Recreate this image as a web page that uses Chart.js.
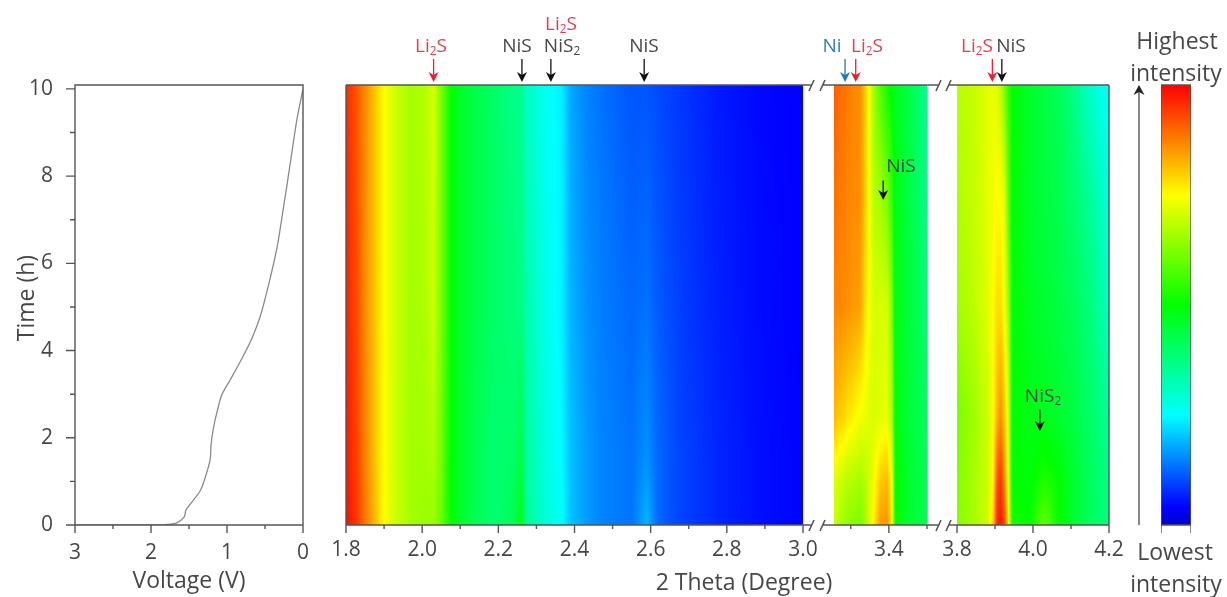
<!DOCTYPE html>
<html>
<head>
<meta charset="utf-8">
<script src="https://cdn.jsdelivr.net/npm/chart.js@4/dist/chart.umd.js"></script>
<style>
    html, body { margin: 0; padding: 0; background: #fff; }
    #page { position: relative; width: 1227px; height: 597px; overflow: hidden; font-family: "Open Sans", sans-serif; color: #474747; filter: blur(0.4px); }
    canvas { position: absolute; top: 0; }
    svg { position: absolute; left: 0; top: 0; }
    .lab { position: absolute; transform: translate(-50%, -50%); white-space: nowrap; font-size: 19px; line-height: 1; }
    .big { font-size: 23px; }
    .red { color: #d9434f; }
    .blue { color: #2f7fbd; }
    .lab sub { font-size: 62%; line-height: 0; vertical-align: -0.3em; }
</style>
</head>
<body>
<div id="page">
    <canvas id="voltChart" width="330" height="597" style="left:0"></canvas>
    <canvas id="heatA" width="517" height="597" style="left:316px"></canvas>
    <canvas id="heatB" width="153" height="597" style="left:804px"></canvas>
    <canvas id="heatC" width="212" height="597" style="left:927px"></canvas>
    <canvas id="colorBar" width="30" height="597" style="left:1161px"></canvas>

    <svg width="1227" height="597">
        <g stroke="#555" stroke-width="1.6" fill="none">
            <path d="M346 85H811M822 85H938M949 85H1109" />
            <path d="M346 525H811M822 525H938M949 525H1109" />
            <path d="M809 91L814 80M820 91L825 80M936 91L941 80M946 91L951 80" />
            <path d="M809 531L814 520M820 531L825 520M936 531L941 520M946 531L951 520" />
        </g>
        <path d="M1139 525V92" stroke="#555" stroke-width="1.4" fill="none" />
        <path d="M1139 85L1133.5 95L1139 92L1144.5 95Z" fill="#222" />
    </svg>

    <div class="lab big" style="left:25px;top:298px;transform:translate(-50%, -50%) rotate(-90deg)">Time (h)</div>
    <div class="lab red" style="left:431px;top:45px">Li<sub>2</sub>S</div>
    <div class="lab red" style="left:561px;top:23px">Li<sub>2</sub>S</div>
    <div class="lab" style="left:517px;top:45px">NiS</div>
    <div class="lab" style="left:562px;top:45px">NiS<sub>2</sub></div>
    <div class="lab" style="left:644px;top:45px">NiS</div>
    <div class="lab blue" style="left:832px;top:45px">Ni</div>
    <div class="lab red" style="left:867px;top:45px">Li<sub>2</sub>S</div>
    <div class="lab red" style="left:977px;top:45px">Li<sub>2</sub>S</div>
    <div class="lab" style="left:1011px;top:45px">NiS</div>
    <div class="lab" style="left:901px;top:165px">NiS</div>
    <div class="lab" style="left:1043px;top:395px">NiS<sub>2</sub></div>
    <div class="lab big" style="left:1177px;top:40px">Highest</div>
    <div class="lab big" style="left:1176px;top:72px">intensity</div>
    <div class="lab big" style="left:1175px;top:551px">Lowest</div>
    <div class="lab big" style="left:1176px;top:583px">intensity</div>
    <div class="lab big" style="left:744px;top:581px">2 Theta (Degree)</div>
</div>

<script>
// voltage profile
const voltage = [3, 2, 1.78, 1.66, 1.56, 1.545, 1.51, 1.35, 1.265, 1.22, 1.21, 1.18, 1.13, 1.07, 0.957, 0.8, 0.67, 0.56, 0.45, 0.34, 0.255, 0.167, 0.08, 0];
const voltTime = [0, 0, 0.015, 0.05, 0.19, 0.32, 0.42, 0.79, 1.21, 1.52, 1.83, 2.21, 2.6, 2.98, 3.33, 3.83, 4.29, 4.8, 5.53, 6.38, 7.3, 8.3, 9.3, 10];
const voltTicks = [3, 2.5, 2, 1.5, 1, 0.5, 0];
const voltLabels = [3, 2, 1, 0];
const timeTicks = [0, 1, 2, 3, 4, 5, 6, 7, 8, 9, 10];
const timeLabels = [0, 2, 4, 6, 8, 10];

// time rows the intensity was read at (per panel)
const timesA = [0, 1.5, 5, 10.09];
const timesBC = [0, 1, 2.5, 5, 7.5, 10.09];

// panel A, 1.8 - 3.0 degree
const thetaA = [1.8, 1.826, 1.852, 1.879, 1.9, 1.93, 1.97, 2.01, 2.03, 2.05, 2.076, 2.1, 2.14, 2.19, 2.24, 2.26, 2.275, 2.325, 2.365, 2.39, 2.43, 2.467, 2.55, 2.59, 2.62, 2.68, 2.78, 2.89, 3.0];
const rowsA = [
    [0.99, 0.95, 0.88, 0.81, 0.75, 0.7, 0.66, 0.65, 0.65, 0.6, 0.5, 0.46, 0.42, 0.39, 0.42, 0.48, 0.35, 0.29, 0.26, 0.2, 0.17, 0.15, 0.135, 0.19, 0.125, 0.095, 0.07, 0.05, 0.042],
    [0.98, 0.94, 0.87, 0.8, 0.75, 0.7, 0.66, 0.66, 0.67, 0.61, 0.5, 0.46, 0.42, 0.39, 0.4, 0.44, 0.34, 0.28, 0.25, 0.2, 0.17, 0.15, 0.135, 0.16, 0.125, 0.095, 0.07, 0.05, 0.042],
    [0.97, 0.93, 0.86, 0.8, 0.75, 0.7, 0.66, 0.67, 0.7, 0.62, 0.5, 0.46, 0.43, 0.4, 0.38, 0.37, 0.33, 0.27, 0.24, 0.19, 0.16, 0.145, 0.125, 0.135, 0.115, 0.09, 0.065, 0.048, 0.04],
    [0.96, 0.92, 0.86, 0.8, 0.75, 0.7, 0.66, 0.68, 0.71, 0.62, 0.5, 0.46, 0.43, 0.4, 0.37, 0.36, 0.31, 0.26, 0.24, 0.18, 0.15, 0.135, 0.11, 0.11, 0.1, 0.085, 0.06, 0.045, 0.04],
];

// panel B, 3.256 - 3.5 degree
const thetaB = [3.256, 3.29, 3.325, 3.338, 3.346, 3.36, 3.377, 3.395, 3.408, 3.417, 3.456, 3.5];
const rowsB = [
    [0.7, 0.64, 0.62, 0.66, 0.7, 0.76, 0.85, 0.86, 0.76, 0.5, 0.45, 0.42],
    [0.72, 0.68, 0.66, 0.68, 0.7, 0.74, 0.8, 0.82, 0.74, 0.5, 0.45, 0.42],
    [0.82, 0.78, 0.74, 0.73, 0.72, 0.71, 0.72, 0.73, 0.66, 0.49, 0.44, 0.41],
    [0.87, 0.86, 0.84, 0.78, 0.75, 0.71, 0.71, 0.71, 0.62, 0.48, 0.44, 0.39],
    [0.89, 0.87, 0.86, 0.8, 0.75, 0.68, 0.66, 0.62, 0.55, 0.48, 0.43, 0.37],
    [0.91, 0.88, 0.86, 0.8, 0.75, 0.66, 0.58, 0.52, 0.49, 0.47, 0.43, 0.36],
];

// panel C, 3.8 - 4.2 degree
const thetaC = [3.8, 3.84, 3.88, 3.895, 3.905, 3.915, 3.925, 3.935, 3.945, 3.99, 4.03, 4.06, 4.1, 4.15, 4.2];
const rowsC = [
    [0.63, 0.66, 0.7, 0.8, 0.96, 0.98, 0.92, 0.78, 0.52, 0.5, 0.6, 0.52, 0.46, 0.41, 0.38],
    [0.63, 0.66, 0.7, 0.76, 0.92, 0.95, 0.86, 0.74, 0.5, 0.49, 0.53, 0.51, 0.46, 0.41, 0.37],
    [0.62, 0.65, 0.7, 0.75, 0.82, 0.86, 0.8, 0.72, 0.5, 0.48, 0.47, 0.46, 0.44, 0.4, 0.35],
    [0.66, 0.68, 0.72, 0.75, 0.78, 0.78, 0.74, 0.66, 0.5, 0.47, 0.45, 0.44, 0.42, 0.38, 0.31],
    [0.67, 0.69, 0.72, 0.74, 0.75, 0.75, 0.72, 0.6, 0.5, 0.46, 0.44, 0.43, 0.4, 0.35, 0.28],
    [0.68, 0.69, 0.72, 0.73, 0.72, 0.68, 0.62, 0.55, 0.5, 0.46, 0.44, 0.42, 0.38, 0.3, 0.25],
];

const ticksA = [1.8, 1.9, 2, 2.1, 2.2, 2.3, 2.4, 2.5, 2.6, 2.7, 2.8, 2.9, 3];
const labelsA = [1.8, 2, 2.2, 2.4, 2.6, 2.8, 3];
const ticksB = [3.3, 3.4, 3.5];
const labelsB = [3.4];
const ticksC = [3.8, 3.9, 4, 4.1, 4.2];
const labelsC = [3.8, 4, 4.2];

// peak arrows: 2 theta and colour
const peaksA = [2.03, 2.262, 2.338, 2.583];
const peakColorsA = ["#e8202e", "#111", "#111", "#111"];
const peaksB = [3.285, 3.313];
const peakColorsB = ["#1f78b8", "#e8202e"];
const peaksC = [3.893, 3.918];
const peakColorsC = ["#e8202e", "#111"];

// colour bar
const barLevels = [0, 1];

// rainbow used by the map: 0 dark blue ... 1 red
const colorStops = [
    [0, 0, 0, 205],
    [0.04, 0, 0, 255],
    [0.25, 0, 255, 255],
    [0.5, 0, 255, 0],
    [0.75, 255, 255, 0],
    [1, 255, 0, 0],
];

const tickFont = { family: "Open Sans", size: 21 };
const textColor = "#474747";
const lineColor = "#555";

function intensityColor(v) {
    for (let i = 1; i < colorStops.length; i++) {
        if (v <= colorStops[i][0]) {
            const a = colorStops[i - 1], b = colorStops[i];
            const f = (v - a[0]) / (b[0] - a[0]);
            return [a[1] + (b[1] - a[1]) * f, a[2] + (b[2] - a[2]) * f, a[3] + (b[3] - a[3]) * f];
        }
    }
    return [255, 0, 0];
}

// index of the interval holding v, and the fraction along it
function locate(list, v) {
    let i = 0;
    while (i < list.length - 2 && v > list[i + 1]) i++;
    const f = (v - list[i]) / (list[i + 1] - list[i]);
    return [i, Math.min(1, Math.max(0, f))];
}

// Plugin to shade the map, pixel by pixel, through the chart's scales
const heatPlugin = {
    id: "heatPlugin",
    beforeDatasetsDraw: (chart, args, opts) => {
        const { left, right, top, bottom } = chart.chartArea;
        const w = Math.round(right - left), h = Math.round(bottom - top);
        const off = document.createElement("canvas");
        off.width = w;
        off.height = h;
        const octx = off.getContext("2d");
        const img = octx.createImageData(w, h);
        for (let py = 0; py < h; py++) {
            const [r, fr] = locate(opts.times, chart.scales.y.getValueForPixel(top + py + 0.5));
            for (let px = 0; px < w; px++) {
                const [c, fc] = locate(opts.thetas, chart.scales.x.getValueForPixel(left + px + 0.5));
                const lo = opts.rows[r][c] * (1 - fc) + opts.rows[r][c + 1] * fc;
                const hi = opts.rows[r + 1][c] * (1 - fc) + opts.rows[r + 1][c + 1] * fc;
                const rgb = intensityColor(lo * (1 - fr) + hi * fr);
                const k = (py * w + px) * 4;
                img.data[k] = rgb[0];
                img.data[k + 1] = rgb[1];
                img.data[k + 2] = rgb[2];
                img.data[k + 3] = 255;
            }
        }
        octx.putImageData(img, 0, 0);
        chart.ctx.drawImage(off, left, top);
    },
};

function drawArrow(ctx, x, y0, y1, color) {
    ctx.strokeStyle = color;
    ctx.fillStyle = color;
    ctx.lineWidth = 1.3;
    ctx.beginPath();
    ctx.moveTo(x, y0);
    ctx.lineTo(x, y1 - 5);
    ctx.stroke();
    ctx.beginPath();
    ctx.moveTo(x, y1);
    ctx.lineTo(x - 5, y1 - 10);
    ctx.lineTo(x, y1 - 7);
    ctx.lineTo(x + 5, y1 - 10);
    ctx.closePath();
    ctx.fill();
}

// Plugin for the peak arrows above a panel
const peakPlugin = {
    id: "peakPlugin",
    afterDatasetsDraw: (chart, args, opts) => {
        (opts.peaks || []).forEach((theta, i) => {
            drawArrow(chart.ctx, chart.scales.x.getPixelForValue(theta), 59, 82, opts.colors[i]);
        });
        (opts.inside || []).forEach((p) => {
            const x = chart.scales.x.getPixelForValue(p[0]);
            drawArrow(chart.ctx, x, chart.scales.y.getPixelForValue(p[1]), chart.scales.y.getPixelForValue(p[2]), "#111");
        });
    },
};

// Plugin for tick marks: labelled ticks long, the others short
const tickPlugin = {
    id: "tickPlugin",
    afterDraw: (chart, args, opts) => {
        const { ctx, chartArea } = chart;
        ctx.save();
        ctx.strokeStyle = lineColor;
        ctx.lineWidth = 1.4;
        ctx.beginPath();
        chart.scales.x.ticks.forEach((t) => {
            const x = chart.scales.x.getPixelForValue(t.value);
            ctx.moveTo(x, chartArea.bottom);
            ctx.lineTo(x, chartArea.bottom + (t.label !== "" ? 8 : 4));
        });
        if (opts.yTicks) {
            chart.scales.y.ticks.forEach((t) => {
                const y = chart.scales.y.getPixelForValue(t.value);
                ctx.moveTo(chartArea.left, y);
                ctx.lineTo(chartArea.left - (t.label !== "" ? 9 : 5), y);
            });
        }
        if (opts.frame) ctx.rect(chartArea.left, chartArea.top, chartArea.right - chartArea.left, chartArea.bottom - chartArea.top);
        if (opts.leftEdge) {
            ctx.moveTo(chartArea.left, chartArea.top);
            ctx.lineTo(chartArea.left, chartArea.bottom);
        }
        if (opts.rightEdge) {
            ctx.moveTo(chartArea.right, chartArea.top);
            ctx.lineTo(chartArea.right, chartArea.bottom);
        }
        ctx.stroke();
        ctx.restore();
    },
};

new Chart(document.getElementById("voltChart").getContext("2d"), {
    type: "scatter",
    data: {
        datasets: [{
            data: voltage.map((v, i) => ({ x: v, y: voltTime[i] })),
            showLine: true,
            borderColor: "#8a8a8a",
            borderWidth: 1.3,
            pointRadius: 0,
            tension: 0.25,
        }],
    },
    options: {
        responsive: false,
        animation: false,
        layout: { padding: { top: 85, right: 27, left: 0, bottom: 0 } },
        plugins: { legend: { display: false }, tooltip: { enabled: false }, tickPlugin: { yTicks: true, frame: true } },
        scales: {
            x: {
                type: "linear",
                reverse: true,
                min: 0,
                max: 3,
                grid: { display: false },
                border: { display: false },
                afterBuildTicks: (s) => { s.ticks = voltTicks.map((v) => ({ value: v })); },
                afterFit: (s) => { s.height = 72; },
                ticks: {
                    autoSkip: false,
                    maxRotation: 0,
                    padding: 7,
                    color: textColor,
                    font: tickFont,
                    callback: (v) => (voltLabels.includes(v) ? String(v) : ""),
                },
                title: { display: true, text: "Voltage (V)", color: textColor, font: { family: "Open Sans", size: 23 }, padding: { top: 0, bottom: 2 } },
            },
            y: {
                min: 0,
                max: 10.09,
                grid: { display: false },
                border: { display: false },
                afterBuildTicks: (s) => { s.ticks = timeTicks.map((v) => ({ value: v })); },
                afterFit: (s) => { s.width = 75; },
                ticks: {
                    autoSkip: false,
                    padding: 14,
                    color: textColor,
                    font: tickFont,
                    callback: (v) => (timeLabels.includes(v) ? String(v) : ""),
                },
            },
        },
    },
    plugins: [tickPlugin],
});

function heatChart(id, thetas, times, rows, range, ticks, labels, padding, marks) {
    return new Chart(document.getElementById(id).getContext("2d"), {
        type: "scatter",
        data: {
            datasets: rows.map((row, r) => ({
                data: row.map((v, c) => ({ x: thetas[c], y: times[r] })),
                pointRadius: 0,
            })),
        },
        options: {
            responsive: false,
            animation: false,
            layout: { padding: { top: 85, bottom: 0, left: padding[0], right: padding[1] } },
            plugins: {
                legend: { display: false },
                tooltip: { enabled: false },
                heatPlugin: { thetas: thetas, times: times, rows: rows },
                peakPlugin: marks,
                tickPlugin: marks.edges,
            },
            scales: {
                x: {
                    type: "linear",
                    min: range[0],
                    max: range[1],
                    grid: { display: false },
                    border: { display: false },
                    afterBuildTicks: (s) => { s.ticks = ticks.map((v) => ({ value: v })); },
                    afterFit: (s) => { s.height = 72; },
                    ticks: {
                        autoSkip: false,
                        maxRotation: 0,
                        padding: 4,
                        color: textColor,
                        font: tickFont,
                        callback: (v) => (labels.includes(v) ? v.toFixed(1) : ""),
                    },
                },
                y: { display: false, min: 0, max: 10.09 },
            },
        },
        plugins: [heatPlugin, peakPlugin, tickPlugin],
    });
}

heatChart("heatA", thetaA, timesA, rowsA, [1.8, 3], ticksA, labelsA, [30, 30], {
    peaks: peaksA, colors: peakColorsA, edges: { leftEdge: true },
});
heatChart("heatB", thetaB, timesBC, rowsB, [3.256, 3.5], ticksB, labelsB, [30, 30], {
    peaks: peaksB, colors: peakColorsB, inside: [[3.385, 7.9, 7.45]], edges: {},
});
heatChart("heatC", thetaC, timesBC, rowsC, [3.8, 4.2], ticksC, labelsC, [30, 30], {
    peaks: peaksC, colors: peakColorsC, inside: [[4.018, 2.65, 2.15]], edges: { rightEdge: true },
});

// colour bar: same shading, the value just follows the level
new Chart(document.getElementById("colorBar").getContext("2d"), {
    type: "scatter",
    data: { datasets: [{ data: barLevels.map((v) => ({ x: 0, y: v })), pointRadius: 0 }] },
    options: {
        responsive: false,
        animation: false,
        layout: { padding: { top: 85, bottom: 72, left: 0, right: 0 } },
        plugins: {
            legend: { display: false },
            tooltip: { enabled: false },
            heatPlugin: { thetas: [0, 1], times: barLevels, rows: barLevels.map((v) => [v, v]) },
            tickPlugin: { frame: true },
        },
        scales: {
            x: { display: false, type: "linear", min: 0, max: 1 },
            y: { display: false, min: 0, max: 1 },
        },
    },
    plugins: [heatPlugin, tickPlugin],
});
</script>
</body>
</html>
